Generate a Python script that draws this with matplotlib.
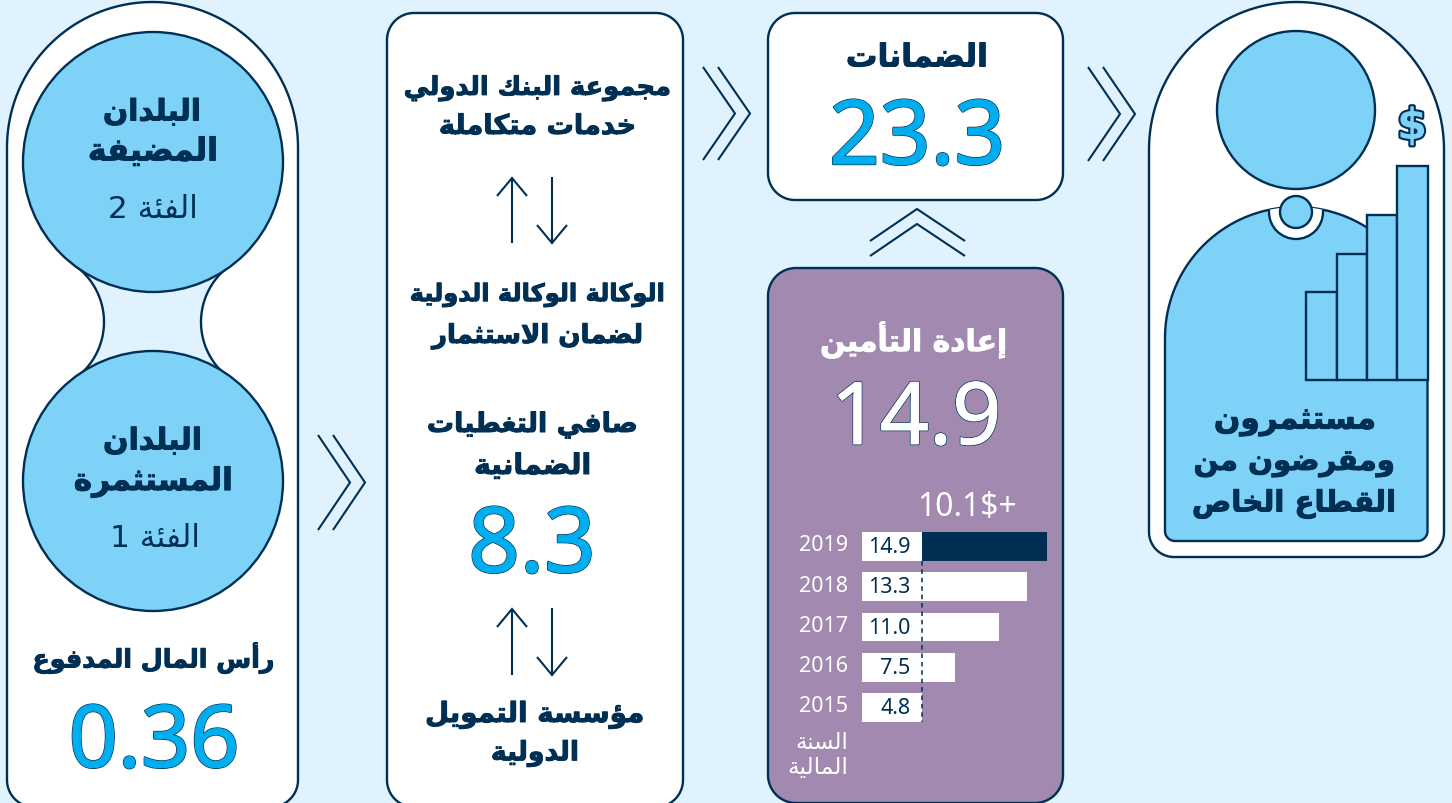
import re
import numpy as np
import matplotlib
matplotlib.use("Agg")
import matplotlib.pyplot as plt
from matplotlib.patches import Circle, Polygon
from matplotlib.transforms import ScaledTranslation
import matplotlib.patheffects as pe

# ---------- data ----------
years = ["2019", "2018", "2017", "2016", "2015"]
guarantee_totals = [14.9, 13.3, 11.0, 7.5, 4.8]
baseline_value = 4.8
increase_label = "10.1$+"
big_capital = "0.36"
big_net = "8.3"
big_guarantee = "23.3"
big_reinsurance = "14.9"
icon_bar_tops = [292, 254, 215, 166]

# ---------- palette ----------
BG = "#E0F2FD"
LIGHT = "#7FD2F7"
DARK = "#002F54"
CYAN = "#00AEEF"
PURPLE = "#A189B0"
LW = 1.7
THIN = 1.5

# ---------- Arabic shaping (matplotlib draws no joined or right-to-left text) ----------
_four = {"ئ": 0xFE89, "ب": 0xFE8F, "ت": 0xFE95, "ث": 0xFE99, "ج": 0xFE9D, "ح": 0xFEA1, "خ": 0xFEA5,
         "س": 0xFEB1, "ش": 0xFEB5, "ص": 0xFEB9, "ض": 0xFEBD, "ط": 0xFEC1, "ظ": 0xFEC5, "ع": 0xFEC9,
         "غ": 0xFECD, "ف": 0xFED1, "ق": 0xFED5, "ك": 0xFED9, "ل": 0xFEDD, "م": 0xFEE1, "ن": 0xFEE5,
         "ه": 0xFEE9, "ي": 0xFEF1}
_two = {"آ": 0xFE81, "أ": 0xFE83, "ؤ": 0xFE85, "إ": 0xFE87, "ا": 0xFE8D, "ة": 0xFE93, "د": 0xFEA9,
        "ذ": 0xFEAB, "ر": 0xFEAD, "ز": 0xFEAF, "و": 0xFEED, "ى": 0xFEEF}
_lam = {"آ": 0xFEF5, "أ": 0xFEF7, "إ": 0xFEF9, "ا": 0xFEFB}


def _shape_word(w):
    if not re.search("[\u0600-\u06FF]", w):
        return w
    out, i, joined = [], 0, False
    while i < len(w):
        c = w[i]
        nxt = w[i + 1] if i + 1 < len(w) else ""
        if c == "ل" and nxt in _lam:
            out.append(chr(_lam[nxt] + (1 if joined else 0)))
            joined = False
            i += 2
            continue
        if c in _four:
            follows = nxt in _four or nxt in _two
            if joined and follows:
                code = _four[c] + 3
            elif joined:
                code = _four[c] + 1
            elif follows:
                code = _four[c] + 2
            else:
                code = _four[c]
            out.append(chr(code))
            joined = follows
        elif c in _two:
            out.append(chr(_two[c] + (1 if joined else 0)))
            joined = False
        else:
            out.append(c)
            joined = False
        i += 1
    return "".join(reversed(out))


def ar(text):
    return " ".join(_shape_word(w) for w in reversed(text.split(" ")))


# ---------- figure ----------
fig = plt.figure(figsize=(14.52, 8.04), dpi=100, facecolor=BG)
ax = fig.add_axes([0, 0, 1, 1])
ax.set_xlim(0, 1452)
ax.set_ylim(803, -1)
ax.axis("off")
renderer = fig.canvas.get_renderer()


def outline(x0, y0, x1, y1, rt, rb):
    pts = []
    for cx, cy, r, a0 in [(x0 + rt, y0 + rt, rt, 180), (x1 - rt, y0 + rt, rt, 270),
                          (x1 - rb, y1 - rb, rb, 0), (x0 + rb, y1 - rb, rb, 90)]:
        t = np.radians(np.linspace(a0, a0 + 90, 40))
        pts.append(np.column_stack([cx + r * np.cos(t), cy + r * np.sin(t)]))
    return np.vstack(pts)


def panel(x0, y0, x1, y1, rt, rb, fc="white", z=1):
    p = Polygon(outline(x0, y0, x1, y1, rt, rb), closed=True, fc=fc, ec=DARK, lw=LW, zorder=z)
    ax.add_patch(p)
    return p


def circle(cx, cy, r, fc=LIGHT, z=3):
    c = Circle((cx, cy), r, fc=fc, ec=DARK, lw=LW, zorder=z)
    ax.add_patch(c)
    return c


def line(xs, ys, lw=LW):
    ax.plot(xs, ys, color=DARK, lw=lw, solid_capstyle="butt", solid_joinstyle="miter", zorder=4)


def chev_right(x, top, bottom):
    mid = (top + bottom) / 2
    for dx in (0, 15):
        line([x + dx, x + dx + 32, x + dx], [top, mid, bottom], lw=THIN)


def arrow_up(x, top, bottom):
    line([x, x], [top + 1, bottom], lw=THIN)
    line([x - 15, x, x + 15], [top + 18, top, top + 18], lw=THIN)


def arrow_down(x, top, bottom):
    line([x, x], [top, bottom - 1], lw=THIN)
    line([x - 15, x, x + 15], [bottom - 18, bottom, bottom - 18], lw=THIN)


def label(text, x0, x1, cy, color=DARK, weight="bold", ha="center"):
    t = ax.text((x0 + x1) / 2 if ha == "center" else x1, cy + 1, ar(text), family="DejaVu Sans",
                fontweight=weight, fontsize=20, color=color, ha=ha, va="center", zorder=6)
    w = t.get_window_extent(renderer).width
    t.set_fontsize(20 * (x1 - x0) / w)
    if weight == "bold":
        t.set_path_effects([pe.withStroke(linewidth=0.7, foreground=color)])
    return t


def bignum(text, cx, baseline, size, fc=CYAN):
    ax.text(cx, baseline, text, family="Noto Sans", fontsize=size, color=fc, ha="center", va="baseline",
            zorder=6, path_effects=[pe.Stroke(linewidth=1.7, foreground=DARK),
                                    pe.Stroke(linewidth=0.7, foreground=fc), pe.Normal()])


# ---------- left column ----------
panel(7, 2, 298, 807, 145.5, 27)
theta = np.radians(np.linspace(-52, 52, 40))
R = 69.5
left_arc = np.column_stack([34.5 + R * np.cos(theta), 322 + R * np.sin(theta)])
right_arc = np.column_stack([270.5 - R * np.cos(theta), 322 + R * np.sin(theta)])
ax.add_patch(Polygon(np.vstack([left_arc, right_arc[::-1]]), closed=True, fc=BG, ec="none", zorder=2))
ax.plot(left_arc[:, 0], left_arc[:, 1], color=DARK, lw=LW, zorder=2.5)
ax.plot(right_arc[:, 0], right_arc[:, 1], color=DARK, lw=LW, zorder=2.5)
circle(153, 162, 130)
circle(153, 481, 130)
label("البلدان", 103, 201, 111)
label("المضيفة", 88, 218, 151)
label("الفئة 2", 108, 198, 207, weight="normal")
label("البلدان", 103, 202, 440)
label("المستثمرة", 74, 233, 481)
label("الفئة 1", 110, 200, 537, weight="normal")
label("رأس المال المدفوع", 32, 274, 657)
bignum(big_capital, 154, 767, 62)

# ---------- middle column ----------
panel(387, 13, 683, 807, 27, 27)
label("مجموعة البنك الدولي", 404, 671, 87)
label("خدمات متكاملة", 439, 636, 126)
label("الوكالة الوكالة الدولية", 410, 665, 294)
label("لضمان الاستثمار", 432, 643, 335)
label("صافي التغطيات", 427, 638, 424)
label("الضمانية", 474, 591, 465)
label("مؤسسة التمويل", 425, 644, 714)
label("الدولية", 491, 579, 752)
bignum(big_net, 532, 572, 65)
arrow_up(512, 178, 243)
arrow_down(552, 177, 243)
arrow_up(512, 609, 675)
arrow_down(552, 608, 675)

# ---------- chevrons ----------
chev_right(318, 435, 530)
chev_right(703, 67, 160)
chev_right(1088, 67, 161)
for dy in (0, 15):
    line([870, 917, 965], [241 + dy, 209 + dy, 241 + dy], lw=THIN)

# ---------- guarantees and reinsurance ----------
panel(768, 13, 1063, 200, 27, 27)
label("الضمانات", 846, 988, 57)
bignum(big_guarantee, 917, 164, 64)

panel(768, 268, 1063, 803, 28, 28, fc=PURPLE)
label("إعادة التأمين", 820, 1007, 339, color="white")
bignum(big_reinsurance, 916, 444, 62, fc="white")
ax.text(967, 506, increase_label, family="Noto Sans", fontsize=23, color="white",
        ha="center", va="center", parse_math=False, zorder=6)
label("السنة", 795, 848, 741, color="white", weight="normal")
label("المالية", 787, 848, 765, color="white", weight="normal")

# bar chart of the fiscal years
px_per_unit = 12.42
bx0, bx1, by0, by1 = 862, 1052, 527.4, 728.6
ax_bar = fig.add_axes([bx0 / 1452, 1 - by1 / 804, (bx1 - bx0) / 1452, (by1 - by0) / 804])
ax_bar.patch.set_alpha(0)
ax_bar.set_zorder(5)
ax_bar.set_xlim(0, (bx1 - bx0) / px_per_unit)
ax_bar.set_ylim(4.5, -0.5)
positions = np.arange(len(years))
ax_bar.barh(positions, guarantee_totals, height=0.72, color="white", linewidth=0)
ax_bar.barh(positions[0], guarantee_totals[0] - baseline_value, left=baseline_value,
            height=0.72, color=DARK, linewidth=0)
ax_bar.vlines(baseline_value, positions[0] + 0.36, positions[-1] + 0.36, color=DARK, lw=1.1,
              linestyles=(0, (3, 2.5)), zorder=4)
for p, v in zip(positions, guarantee_totals):
    ax_bar.text(baseline_value - 0.88, p, f"{v:.1f}", family="Noto Sans", fontsize=15.5, color=DARK,
                ha="right", va="center")
ax_bar.set_yticks(positions, years, family="Noto Sans", fontsize=15.5, color="white")
ax_bar.set_xticks([])
ax_bar.tick_params(axis="y", length=0, pad=10)
lift = ScaledTranslation(0, 3 / 72, fig.dpi_scale_trans)
for tick_label in ax_bar.get_yticklabels():
    tick_label.set_transform(tick_label.get_transform() + lift)
for s in ax_bar.spines.values():
    s.set_visible(False)

# ---------- investor figure ----------
panel(1149, 2, 1444, 557, 147.5, 25)
circle(1296, 110, 79)
body = panel(1165, 207, 1427.5, 541, 131, 10, fc=LIGHT, z=2)
notch = Circle((1296, 212), 27, fc="white", ec=DARK, lw=LW, zorder=2.2)
ax.add_patch(notch)
notch.set_clip_path(body)
circle(1296, 212, 16)
icon_edges = [1306, 1336.5, 1367, 1397, 1427.5]
for i, top in enumerate(icon_bar_tops):
    ax.add_patch(Polygon([(icon_edges[i], 380), (icon_edges[i], top), (icon_edges[i + 1], top),
                          (icon_edges[i + 1], 380)], closed=True, fc=LIGHT, ec=DARK, lw=LW, zorder=3))
ax.text(1412, 127, "$", family="DejaVu Sans", fontweight="bold", fontsize=31, color=LIGHT,
        ha="center", va="center", parse_math=False, zorder=6,
        path_effects=[pe.withStroke(linewidth=3, foreground=DARK)])
label("مستثمرون", 1214, 1376, 421)
label("ومقرضون من", 1194, 1395, 462)
label("القطاع الخاص", 1192, 1396, 503)

fig.savefig("out.png", dpi=100, facecolor=BG)
